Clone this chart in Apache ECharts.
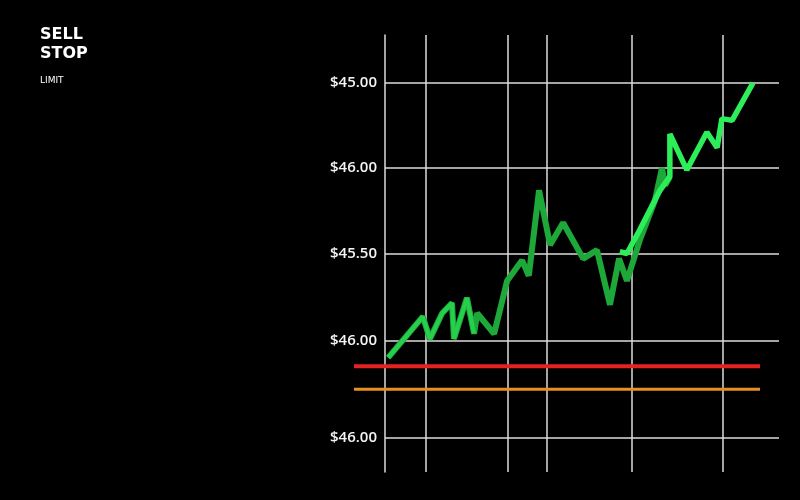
<!DOCTYPE html>
<html>
<head>
<meta charset="utf-8">
<style>html,body{margin:0;padding:0;background:#000;}#chart{width:800px;height:500px;}</style>
<script src="https://cdn.jsdelivr.net/npm/echarts@6/dist/echarts.min.js"></script>
</head>
<body>
<div id="chart"></div>
<script>
// Y tick positions (internal price scale) and their printed labels (bottom to top)
var yTickValues = [44.90, 45.47, 45.98, 46.48, 46.98];
var yTickLabels = ['$46.00', '$46.00', '$45.50', '$46.00', '$45.00'];
// X gridline positions (time units)
var xTickValues = [10.4, 31.2, 41.1, 62.7, 85.8];

// Price trace (dark green) [time, price]
var darkTime  = [0.8, 9.6, 11.4, 14.5, 17.0, 17.5, 20.8, 22.6, 23.4, 27.7, 31.0, 34.8, 36.5, 39.1, 41.9, 45.2, 50.3, 53.8, 57.1, 59.4, 61.4, 64.7, 68.5, 70.3, 71.1, 72.3];
var darkPrice = [45.37, 45.61, 45.48, 45.63, 45.69, 45.48, 45.72, 45.51, 45.63, 45.51, 45.82, 45.94, 45.85, 46.35, 46.03, 46.16, 45.95, 46.00, 45.68, 45.95, 45.82, 46.06, 46.29, 46.48, 46.38, 46.43];
// Bright green trace, first part
var brightATime  = [0.8, 9.6, 11.4, 14.5, 17.0, 17.5, 20.8, 22.6];
var brightAPrice = [45.37, 45.61, 45.48, 45.63, 45.69, 45.48, 45.72, 45.51];
// Bright green trace, final rally
var brightBTime  = [59.6, 61.4, 64.7, 69.8, 72.3, 72.3, 76.6, 81.7, 84.3, 85.5, 88.1, 93.4];
var brightBPrice = [45.99, 45.98, 46.12, 46.35, 46.43, 46.68, 46.47, 46.69, 46.60, 46.77, 46.76, 46.98];

// Order levels
var sellStopLevel = 45.32;
var limitLevel = 45.185;

var yMin = 44.70, yMax = 47.26;

function pairs(t, v) { return t.map(function (x, i) { return [x, v[i]]; }); }

var chart = echarts.init(document.getElementById('chart'), null, {renderer: 'canvas'});
var gridColor = '#dcdcdc';
chart.setOption({
  backgroundColor: '#000',
  animation: false,
  title: {
    text: 'SELL\nSTOP',
    subtext: 'LIMIT',
    left: 40, top: 25, padding: 0,
    itemGap: 13,
    textStyle: {color: '#fff', fontSize: 16, fontWeight: 'bold', fontFamily: 'DejaVu Sans', lineHeight: 19},
    subtextStyle: {color: '#fff', fontSize: 9, fontFamily: 'DejaVu Sans'}
  },
  grid: [
    {left: 385, right: 21, top: 35, bottom: 28},
    {left: 354, right: 40, top: 35, bottom: 28}
  ],
  xAxis: [
    {
      type: 'value', gridIndex: 0, min: 0, max: 100,
      axisLine: {show: false},
      axisTick: {show: false, customValues: xTickValues},
      axisLabel: {show: false, customValues: xTickValues},
      splitLine: {show: true, lineStyle: {color: gridColor, width: 1.5}}
    },
    {
      type: 'value', gridIndex: 1, min: 0, max: 1, show: false,
      splitLine: {show: false}
    }
  ],
  yAxis: [
    {
      type: 'value', gridIndex: 0, min: yMin, max: yMax,
      axisLine: {show: true, lineStyle: {color: gridColor, width: 1.5}},
      axisTick: {show: false, customValues: yTickValues},
      axisLabel: {
        customValues: yTickValues,
        color: '#f4f4f4', fontSize: 15, fontWeight: 600, fontFamily: 'Open Sans', margin: 8,
        formatter: function (v) {
          var best = 0;
          for (var i = 1; i < yTickValues.length; i++) {
            if (Math.abs(yTickValues[i] - v) < Math.abs(yTickValues[best] - v)) best = i;
          }
          return yTickLabels[best];
        }
      },
      splitLine: {show: true, lineStyle: {color: gridColor, width: 1.5}}
    },
    {
      type: 'value', gridIndex: 1, min: yMin, max: yMax, show: false,
      splitLine: {show: false}
    }
  ],
  series: [
    {
      type: 'line', xAxisIndex: 1, yAxisIndex: 1, symbol: 'none', z: 3,
      lineStyle: {color: '#e42222', width: 4},
      data: [[0, sellStopLevel], [1, sellStopLevel]]
    },
    {
      type: 'line', xAxisIndex: 1, yAxisIndex: 1, symbol: 'none', z: 3,
      lineStyle: {color: '#ea9020', width: 3},
      data: [[0, limitLevel], [1, limitLevel]]
    },
    {
      type: 'line', xAxisIndex: 0, yAxisIndex: 0, symbol: 'none', z: 4,
      lineStyle: {color: '#1ea83a', width: 6},
      data: pairs(darkTime, darkPrice)
    },
    {
      type: 'line', xAxisIndex: 0, yAxisIndex: 0, symbol: 'none', z: 5,
      lineStyle: {color: '#27d04c', width: 4},
      data: pairs(brightATime, brightAPrice)
    },
    {
      type: 'line', xAxisIndex: 0, yAxisIndex: 0, symbol: 'none', z: 5,
      lineStyle: {color: '#2cee58', width: 5.5},
      data: pairs(brightBTime, brightBPrice)
    }
  ]
});
</script>
</body>
</html>
